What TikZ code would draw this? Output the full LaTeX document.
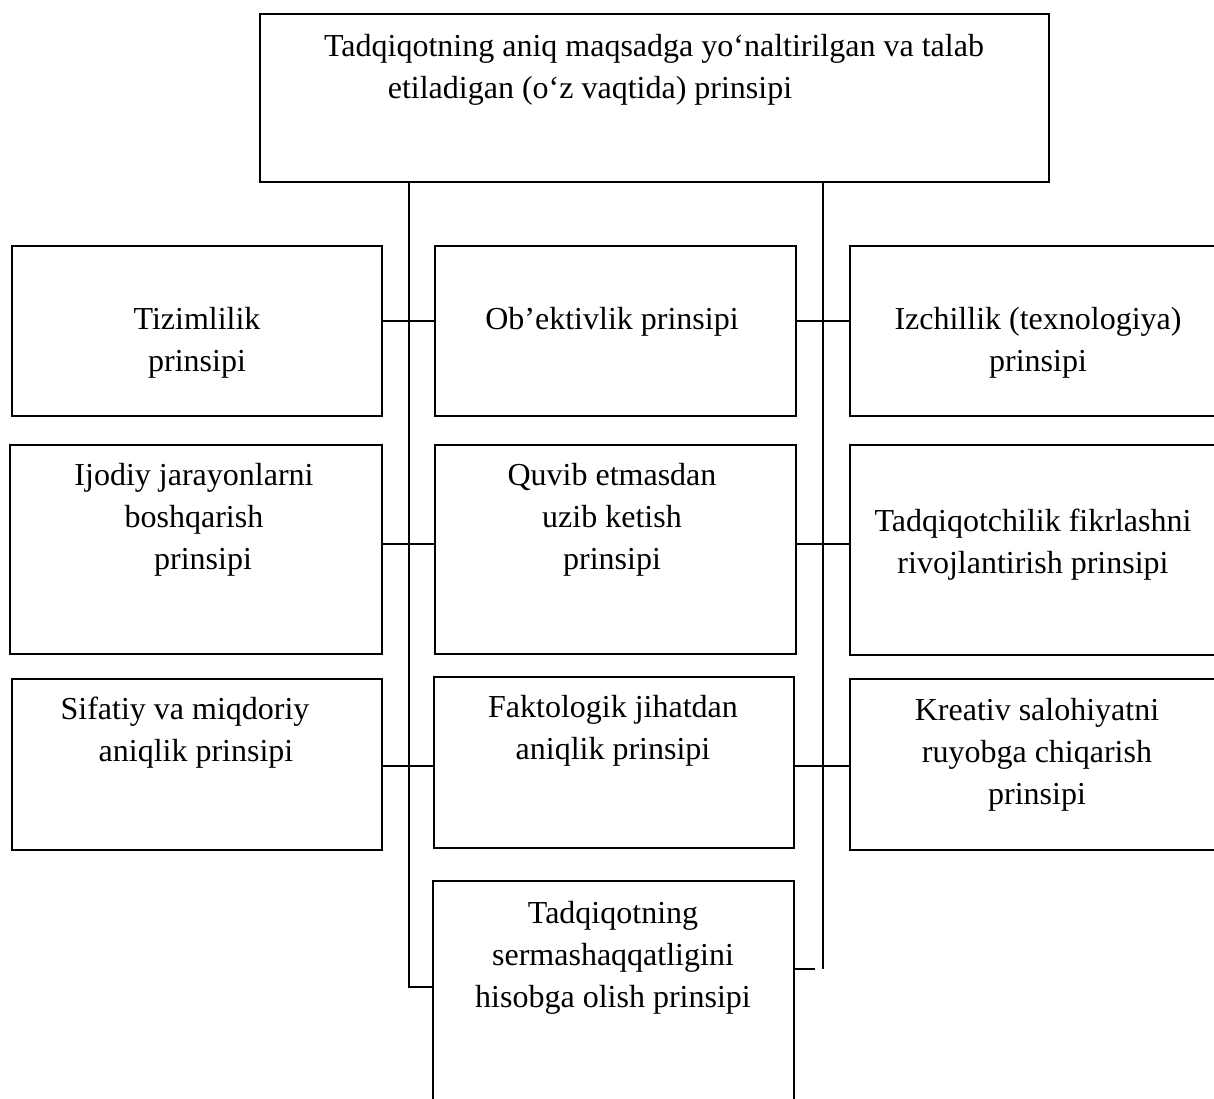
\documentclass[tikz,border=0pt]{standalone}
\usepackage{fontspec}
\setmainfont{Liberation Serif}
\begin{document}
\begin{tikzpicture}[x=1pt,y=-1pt,
  box/.style={draw, line width=2pt, anchor=north west, inner sep=0pt},
  conn/.style={line width=1.6pt},
  txt/.style={font=\fontsize{32}{42}\selectfont, align=center, inner sep=0pt}]
\useasboundingbox (0,0) rectangle (1214,1099);
% boxes
\node[box, minimum width=789, minimum height=168] (top) at (259,13) {};
\node[box, minimum width=370, minimum height=170] (l1) at (11,245) {};
\node[box, minimum width=361, minimum height=170] (m1) at (434,245) {};
\node[box, minimum width=369, minimum height=170] (r1) at (849,245) {};
\node[box, minimum width=372, minimum height=209] (l2) at (9,444) {};
\node[box, minimum width=361, minimum height=209] (m2) at (434,444) {};
\node[box, minimum width=369, minimum height=210] (r2) at (849,444) {};
\node[box, minimum width=370, minimum height=171] (l3) at (11,678) {};
\node[box, minimum width=360, minimum height=171] (m3) at (433,676) {};
\node[box, minimum width=369, minimum height=171] (r3) at (849,678) {};
\node[box, minimum width=361, minimum height=230] (m4) at (432,880) {};
% texts
\node[txt] (ttop) at (654,70) {Tadqiqotning aniq maqsadga yo‘naltirilgan va talab\\etiladigan (o‘z vaqtida) prinsipi\hspace*{128pt}};
\node[txt] (tl1) at (197,343) {Tizimlilik\\prinsipi};
\node[txt] (tm1) at (612,322) {Ob’ektivlik prinsipi};
\node[txt] (tr1) at (1038,343) {Izchillik (texnologiya)\\prinsipi};
\node[txt] (tl2) at (194,520) {Ijodiy jarayonlarni\\boshqarish\hspace*{18pt}\\\hspace*{18pt}prinsipi};
\node[txt] (tm2) at (612,520) {Quvib etmasdan\\uzib ketish\hspace*{12pt}\\prinsipi};
\node[txt] (tr2) at (1033,545) {Tadqiqotchilik fikrlashni\\rivojlantirish prinsipi};
\node[txt] (tl3) at (185,733) {Sifatiy va miqdoriy\\\hspace*{22pt}aniqlik prinsipi};
\node[txt] (tm3) at (613,731) {Faktologik jihatdan\\aniqlik prinsipi};
\node[txt] (tr3) at (1037,755) {Kreativ salohiyatni\\ruyobga chiqarish\\prinsipi};
\node[txt] (tm4) at (613,958) {Tadqiqotning\\sermashaqqatligini\\hisobga olish prinsipi};
% connector coordinates
\coordinate (lbot) at (409,987);
\coordinate (rbot) at (823,969);
\coordinate (rstub) at (815,969);
\coordinate (c1) at (0,321);
\coordinate (c2) at (0,544);
\coordinate (c3) at (0,766);
% trunks
\draw[conn] (top.south -| lbot) -- (lbot) -- (lbot -| m4.west);
\draw[conn] (top.south -| rbot) -- (rbot);
\draw[conn] (m4.east |- rstub) -- (rstub);
% branches
\draw[conn] (l1.east |- c1) -- (m1.west |- c1);
\draw[conn] (m1.east |- c1) -- (r1.west |- c1);
\draw[conn] (l2.east |- c2) -- (m2.west |- c2);
\draw[conn] (m2.east |- c2) -- (r2.west |- c2);
\draw[conn] (l3.east |- c3) -- (m3.west |- c3);
\draw[conn] (m3.east |- c3) -- (r3.west |- c3);
\end{tikzpicture}
\end{document}
